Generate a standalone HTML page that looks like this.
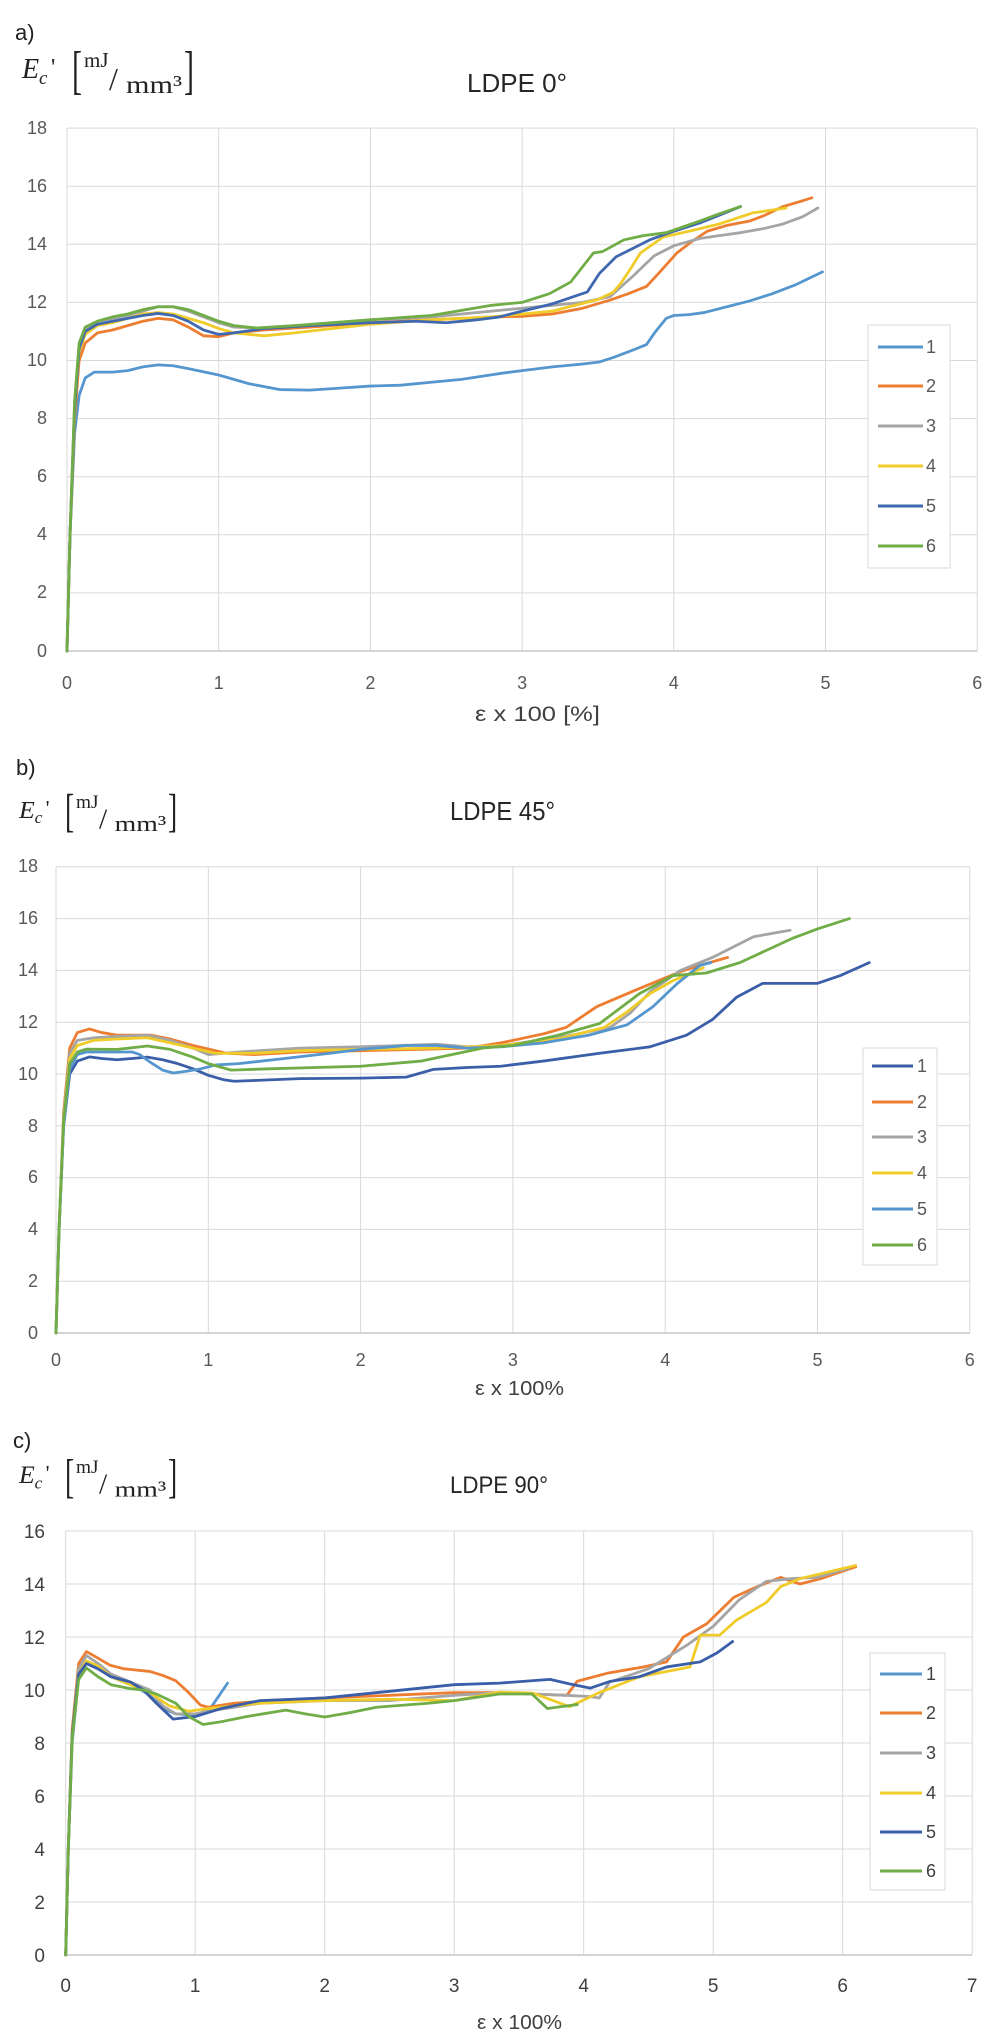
<!DOCTYPE html>
<html><head><meta charset="utf-8"><style>
html,body{margin:0;padding:0;background:#fff}
svg{display:block}
text{font-family:"Liberation Sans",sans-serif}
.tk{font-size:18px;fill:#595959}
.tkc{font-size:19px;fill:#404040}
.lg{font-size:18px;fill:#595959}
.ser{font-family:"Liberation Serif",serif;fill:#222}
.hd{font-size:22px;fill:#222}
.ttl{fill:#262626}
.xl{fill:#404040}
.g{stroke:#d9d9d9;stroke-width:1}
.ax{stroke:#c6c6c6;stroke-width:1.5}
</style></head><body>
<svg xmlns="http://www.w3.org/2000/svg" width="1001" height="2036" viewBox="0 0 1001 2036">
<rect width="1001" height="2036" fill="#fff"/>

<!-- ================= PANEL A ================= -->
<text class="hd" x="15" y="40">a)</text>
<g id="ecl">
<text class="ser" x="22" y="78" font-size="28" font-style="italic">E</text>
<text class="ser" x="39" y="84" font-size="19" font-style="italic">c</text>
<text class="ser" x="51" y="75" font-size="24">'</text>
<text class="ser" font-size="30" transform="translate(72,88) scale(1,1.75)">[</text>
<text class="ser" x="84" y="67" font-size="21">mJ</text>
<text class="ser" x="109" y="90" font-size="32">/</text>
<text class="ser" x="126" y="93" font-size="25" textLength="56" lengthAdjust="spacingAndGlyphs">mm³</text>
<text class="ser" font-size="30" transform="translate(184,88) scale(1,1.75)">]</text>
</g>
<text class="ttl" x="467" y="92" font-size="26" textLength="100" lengthAdjust="spacingAndGlyphs">LDPE 0°</text>

<g>
<line class="g" x1="67" y1="128.1" x2="977.2" y2="128.1"/>
<line class="g" x1="67" y1="186.2" x2="977.2" y2="186.2"/>
<line class="g" x1="67" y1="244.3" x2="977.2" y2="244.3"/>
<line class="g" x1="67" y1="302.4" x2="977.2" y2="302.4"/>
<line class="g" x1="67" y1="360.5" x2="977.2" y2="360.5"/>
<line class="g" x1="67" y1="418.6" x2="977.2" y2="418.6"/>
<line class="g" x1="67" y1="476.7" x2="977.2" y2="476.7"/>
<line class="g" x1="67" y1="534.8" x2="977.2" y2="534.8"/>
<line class="g" x1="67" y1="592.9" x2="977.2" y2="592.9"/>
<line class="g" x1="218.7" y1="128.1" x2="218.7" y2="651"/>
<line class="g" x1="370.4" y1="128.1" x2="370.4" y2="651"/>
<line class="g" x1="522.1" y1="128.1" x2="522.1" y2="651"/>
<line class="g" x1="673.8" y1="128.1" x2="673.8" y2="651"/>
<line class="g" x1="825.5" y1="128.1" x2="825.5" y2="651"/>
<line class="g" x1="977.2" y1="128.1" x2="977.2" y2="651"/>
<line class="g" x1="67" y1="128.1" x2="67" y2="651"/>
<line class="ax" x1="67" y1="651" x2="977.2" y2="651"/>
</g>
<g class="tk" text-anchor="end">
<text x="47" y="134">18</text><text x="47" y="192">16</text><text x="47" y="250">14</text>
<text x="47" y="308">12</text><text x="47" y="366">10</text><text x="47" y="424">8</text>
<text x="47" y="482">6</text><text x="47" y="540">4</text><text x="47" y="598">2</text>
<text x="47" y="657">0</text>
</g>
<g class="tk" text-anchor="middle">
<text x="67" y="689">0</text><text x="218.7" y="689">1</text><text x="370.4" y="689">2</text>
<text x="522.1" y="689">3</text><text x="673.8" y="689">4</text><text x="825.5" y="689">5</text>
<text x="977.2" y="689">6</text>
</g>
<text class="xl" x="475" y="721" font-size="21" textLength="125" lengthAdjust="spacingAndGlyphs">ε x 100 [%]</text>

<g transform="translate(67,651) scale(151.7,-29.05)" fill="none" stroke-linejoin="round" stroke-linecap="round">
<polyline vector-effect="non-scaling-stroke" stroke="#5596cf" stroke-width="2.8" points="0,0 0.02,4 0.05,7.5 0.08,8.8 0.12,9.4 0.18,9.6 0.3,9.6 0.4,9.65 0.5,9.78 0.6,9.85 0.7,9.82 0.8,9.72 1,9.5 1.2,9.2 1.4,9.0 1.6,8.98 1.8,9.05 2,9.12 2.2,9.15 2.4,9.25 2.6,9.35 2.85,9.55 3,9.65 3.2,9.78 3.4,9.88 3.51,9.95 3.6,10.1 3.75,10.4 3.82,10.55 3.88,11 3.95,11.45 4,11.55 4.1,11.58 4.2,11.65 4.35,11.85 4.5,12.05 4.65,12.3 4.8,12.6 4.98,13.05"/>
<polyline vector-effect="non-scaling-stroke" stroke="#ed7d31" stroke-width="2.8" points="0,0 0.02,4 0.05,8 0.08,10 0.12,10.6 0.2,10.95 0.3,11.05 0.4,11.2 0.5,11.35 0.6,11.45 0.7,11.4 0.8,11.15 0.9,10.85 1,10.82 1.1,10.95 1.3,11.05 1.6,11.15 2,11.3 2.4,11.4 2.8,11.5 3,11.52 3.2,11.6 3.4,11.8 3.58,12.08 3.7,12.3 3.82,12.55 3.9,13 4.02,13.7 4.12,14.1 4.22,14.45 4.35,14.65 4.5,14.8 4.6,15 4.72,15.3 4.85,15.5 4.91,15.6"/>
<polyline vector-effect="non-scaling-stroke" stroke="#a5a5a5" stroke-width="2.8" points="0,0 0.02,4 0.05,8.5 0.08,10.5 0.12,11.1 0.2,11.35 0.3,11.45 0.4,11.55 0.5,11.7 0.6,11.85 0.7,11.85 0.8,11.7 0.9,11.5 1,11.3 1.1,11.15 1.25,11.12 1.5,11.2 2,11.4 2.4,11.5 2.8,11.7 3,11.8 3.2,11.9 3.4,12 3.58,12.2 3.73,12.9 3.87,13.6 4,13.95 4.17,14.2 4.3,14.3 4.44,14.4 4.6,14.55 4.72,14.7 4.85,14.95 4.95,15.25"/>
<polyline vector-effect="non-scaling-stroke" stroke="#f0cc2a" stroke-width="2.8" points="0,0 0.02,4 0.05,8.2 0.08,10.3 0.12,10.9 0.2,11.2 0.3,11.3 0.4,11.45 0.5,11.6 0.6,11.65 0.7,11.6 0.8,11.45 0.9,11.3 1,11.1 1.1,10.95 1.3,10.85 1.5,10.95 2,11.25 2.4,11.4 2.8,11.5 3.2,11.7 3.5,12.1 3.6,12.35 3.65,12.65 3.72,13.2 3.78,13.7 3.93,14.25 4.1,14.45 4.3,14.7 4.52,15.08 4.74,15.25"/>
<polyline vector-effect="non-scaling-stroke" stroke="#4068b0" stroke-width="2.8" points="0,0 0.02,4 0.05,8.3 0.08,10.4 0.12,11 0.2,11.25 0.3,11.35 0.4,11.45 0.5,11.55 0.6,11.62 0.7,11.55 0.8,11.35 0.9,11.05 1,10.9 1.1,10.95 1.3,11.1 1.6,11.2 2,11.3 2.3,11.35 2.5,11.3 2.7,11.4 2.85,11.5 3,11.7 3.2,11.95 3.43,12.36 3.51,13 3.62,13.57 3.84,14.15 4,14.45 4.17,14.73 4.3,15 4.44,15.3"/>
<polyline vector-effect="non-scaling-stroke" stroke="#70ad47" stroke-width="2.8" points="0,0 0.02,4 0.05,8.6 0.08,10.6 0.12,11.15 0.2,11.35 0.3,11.5 0.4,11.6 0.5,11.75 0.6,11.85 0.7,11.85 0.8,11.75 0.9,11.55 1,11.35 1.1,11.2 1.25,11.12 1.5,11.2 2,11.4 2.4,11.55 2.8,11.9 3,12 3.18,12.3 3.32,12.7 3.47,13.7 3.53,13.75 3.67,14.15 3.8,14.3 3.95,14.4 4.17,14.8 4.3,15.05 4.44,15.3"/>
</g>

<rect x="868" y="325" width="82" height="243" fill="#fff" stroke="#d9d9d9" stroke-width="1"/>
<g stroke-width="3">
<line x1="878" y1="347" x2="923" y2="347" stroke="#5596cf"/>
<line x1="878" y1="386" x2="923" y2="386" stroke="#ed7d31"/>
<line x1="878" y1="426" x2="923" y2="426" stroke="#a5a5a5"/>
<line x1="878" y1="466" x2="923" y2="466" stroke="#f0cc2a"/>
<line x1="878" y1="506" x2="923" y2="506" stroke="#4068b0"/>
<line x1="878" y1="546" x2="923" y2="546" stroke="#70ad47"/>
</g>
<g class="lg">
<text x="926" y="353">1</text><text x="926" y="392">2</text><text x="926" y="432">3</text>
<text x="926" y="472">4</text><text x="926" y="512">5</text><text x="926" y="552">6</text>
</g>

<!-- ================= PANEL B ================= -->
<text class="hd" x="16" y="775">b)</text>
<use href="#ecl" transform="translate(19,817) scale(0.92,0.88) translate(-22,-77)"/>
<text class="ttl" x="450" y="820" font-size="26" textLength="105" lengthAdjust="spacingAndGlyphs">LDPE 45°</text>

<g>
<line class="g" x1="56" y1="866.8" x2="969.8" y2="866.8"/>
<line class="g" x1="56" y1="918.6" x2="969.8" y2="918.6"/>
<line class="g" x1="56" y1="970.4" x2="969.8" y2="970.4"/>
<line class="g" x1="56" y1="1022.2" x2="969.8" y2="1022.2"/>
<line class="g" x1="56" y1="1074" x2="969.8" y2="1074"/>
<line class="g" x1="56" y1="1125.8" x2="969.8" y2="1125.8"/>
<line class="g" x1="56" y1="1177.6" x2="969.8" y2="1177.6"/>
<line class="g" x1="56" y1="1229.4" x2="969.8" y2="1229.4"/>
<line class="g" x1="56" y1="1281.2" x2="969.8" y2="1281.2"/>
<line class="g" x1="208.3" y1="866.8" x2="208.3" y2="1333"/>
<line class="g" x1="360.6" y1="866.8" x2="360.6" y2="1333"/>
<line class="g" x1="512.9" y1="866.8" x2="512.9" y2="1333"/>
<line class="g" x1="665.2" y1="866.8" x2="665.2" y2="1333"/>
<line class="g" x1="817.5" y1="866.8" x2="817.5" y2="1333"/>
<line class="g" x1="969.8" y1="866.8" x2="969.8" y2="1333"/>
<line class="g" x1="56" y1="866.8" x2="56" y2="1333"/>
<line class="ax" x1="56" y1="1333" x2="969.8" y2="1333"/>
</g>
<g class="tk" text-anchor="end" font-size="17">
<text x="38" y="872">18</text><text x="38" y="924">16</text><text x="38" y="976">14</text>
<text x="38" y="1028">12</text><text x="38" y="1080">10</text><text x="38" y="1132">8</text>
<text x="38" y="1183">6</text><text x="38" y="1235">4</text><text x="38" y="1287">2</text>
<text x="38" y="1339">0</text>
</g>
<g class="tk" text-anchor="middle" font-size="17">
<text x="56" y="1366">0</text><text x="208.3" y="1366">1</text><text x="360.6" y="1366">2</text>
<text x="512.9" y="1366">3</text><text x="665.2" y="1366">4</text><text x="817.5" y="1366">5</text>
<text x="969.8" y="1366">6</text>
</g>
<text class="xl" x="475" y="1395" font-size="20" textLength="89" lengthAdjust="spacingAndGlyphs">ε x 100%</text>

<g transform="translate(56,1333) scale(152.3,-25.9)" fill="none" stroke-linejoin="round" stroke-linecap="round">
<polyline vector-effect="non-scaling-stroke" stroke="#3b5ea8" stroke-width="2.8" points="0,0 0.02,4 0.05,8 0.09,10 0.14,10.5 0.22,10.66 0.3,10.6 0.4,10.55 0.5,10.6 0.6,10.65 0.7,10.55 0.8,10.4 0.9,10.2 1,9.95 1.1,9.78 1.17,9.72 1.3,9.75 1.6,9.82 2,9.84 2.3,9.88 2.48,10.18 2.7,10.25 2.92,10.3 3.2,10.5 3.57,10.8 3.9,11.05 4.14,11.5 4.31,12.1 4.47,12.97 4.64,13.5 4.8,13.5 5,13.5 5.15,13.8 5.34,14.3"/>
<polyline vector-effect="non-scaling-stroke" stroke="#ed7d31" stroke-width="2.8" points="0,0 0.02,4 0.05,8.5 0.09,11 0.14,11.6 0.22,11.74 0.3,11.6 0.4,11.5 0.5,11.5 0.62,11.5 0.75,11.35 0.9,11.1 1.12,10.8 1.3,10.75 1.6,10.85 2,10.9 2.4,10.95 2.7,11 2.92,11.2 3.2,11.55 3.35,11.8 3.55,12.6 3.83,13.3 4.1,13.95 4.23,14.2 4.41,14.5"/>
<polyline vector-effect="non-scaling-stroke" stroke="#a5a5a5" stroke-width="2.8" points="0,0 0.02,4 0.05,8.3 0.09,10.8 0.14,11.3 0.25,11.4 0.4,11.45 0.6,11.5 0.75,11.3 0.9,11 1,10.75 1.2,10.85 1.6,11 2,11.05 2.5,11.15 2.7,11.05 2.92,11.1 3.3,11.4 3.64,11.8 3.77,12.35 3.9,13.17 4.1,14 4.31,14.5 4.58,15.3 4.82,15.55"/>
<polyline vector-effect="non-scaling-stroke" stroke="#f0cc2a" stroke-width="2.8" points="0,0 0.02,4 0.05,8.2 0.09,10.6 0.14,11.1 0.25,11.3 0.4,11.35 0.6,11.4 0.75,11.2 0.9,11 1.05,10.8 1.3,10.8 1.6,10.9 2,10.95 2.5,11 2.92,11.1 3.3,11.35 3.6,11.8 3.75,12.4 3.9,13.1 4.05,13.6 4.25,14.1"/>
<polyline vector-effect="non-scaling-stroke" stroke="#5596cf" stroke-width="2.8" points="0,0 0.02,4 0.05,8 0.09,10.2 0.14,10.75 0.2,10.85 0.3,10.85 0.4,10.85 0.5,10.85 0.55,10.75 0.62,10.45 0.7,10.15 0.77,10.04 0.85,10.1 0.95,10.2 1.05,10.35 1.2,10.4 1.5,10.6 1.8,10.8 2,10.95 2.3,11.1 2.5,11.1 2.7,11 2.92,11.05 3.2,11.2 3.5,11.5 3.75,11.9 3.92,12.6 4.08,13.5 4.23,14.2 4.3,14.3"/>
<polyline vector-effect="non-scaling-stroke" stroke="#70ad47" stroke-width="2.8" points="0,0 0.02,4 0.05,8.2 0.09,10.4 0.14,10.85 0.2,10.96 0.4,10.95 0.6,11.08 0.75,10.95 0.9,10.65 1,10.4 1.15,10.15 1.4,10.2 2,10.3 2.4,10.5 2.8,11 3,11.1 3.3,11.5 3.57,11.95 3.83,13.1 4.05,13.8 4.27,13.9 4.49,14.3 4.84,15.25 5,15.6 5.21,16"/>
</g>

<rect x="863" y="1048" width="74" height="217" fill="#fff" stroke="#d9d9d9" stroke-width="1"/>
<g stroke-width="3">
<line x1="872" y1="1066" x2="913" y2="1066" stroke="#3b5ea8"/>
<line x1="872" y1="1102" x2="913" y2="1102" stroke="#ed7d31"/>
<line x1="872" y1="1137" x2="913" y2="1137" stroke="#a5a5a5"/>
<line x1="872" y1="1173" x2="913" y2="1173" stroke="#f0cc2a"/>
<line x1="872" y1="1209" x2="913" y2="1209" stroke="#5596cf"/>
<line x1="872" y1="1245" x2="913" y2="1245" stroke="#70ad47"/>
</g>
<g class="lg" font-size="17">
<text x="917" y="1072">1</text><text x="917" y="1108">2</text><text x="917" y="1143">3</text>
<text x="917" y="1179">4</text><text x="917" y="1215">5</text><text x="917" y="1251">6</text>
</g>

<!-- ================= PANEL C ================= -->
<text class="hd" x="13" y="1448">c)</text>
<use href="#ecl" transform="translate(19,1482) scale(0.92,0.9) translate(-22,-77)"/>
<text class="ttl" x="450" y="1493" font-size="24" textLength="98" lengthAdjust="spacingAndGlyphs">LDPE 90°</text>

<g>
<line class="g" x1="65.7" y1="1531" x2="972.2" y2="1531"/>
<line class="g" x1="65.7" y1="1584" x2="972.2" y2="1584"/>
<line class="g" x1="65.7" y1="1637" x2="972.2" y2="1637"/>
<line class="g" x1="65.7" y1="1690" x2="972.2" y2="1690"/>
<line class="g" x1="65.7" y1="1743" x2="972.2" y2="1743"/>
<line class="g" x1="65.7" y1="1796" x2="972.2" y2="1796"/>
<line class="g" x1="65.7" y1="1849" x2="972.2" y2="1849"/>
<line class="g" x1="65.7" y1="1902" x2="972.2" y2="1902"/>
<line class="g" x1="195.2" y1="1531" x2="195.2" y2="1955"/>
<line class="g" x1="324.7" y1="1531" x2="324.7" y2="1955"/>
<line class="g" x1="454.2" y1="1531" x2="454.2" y2="1955"/>
<line class="g" x1="583.7" y1="1531" x2="583.7" y2="1955"/>
<line class="g" x1="713.2" y1="1531" x2="713.2" y2="1955"/>
<line class="g" x1="842.7" y1="1531" x2="842.7" y2="1955"/>
<line class="g" x1="972.2" y1="1531" x2="972.2" y2="1955"/>
<line class="g" x1="65.7" y1="1531" x2="65.7" y2="1955"/>
<line class="ax" x1="65.7" y1="1955" x2="972.2" y2="1955"/>
</g>
<g class="tkc" text-anchor="end">
<text x="45" y="1538">16</text><text x="45" y="1591">14</text><text x="45" y="1644">12</text>
<text x="45" y="1697">10</text><text x="45" y="1750">8</text><text x="45" y="1803">6</text>
<text x="45" y="1856">4</text><text x="45" y="1909">2</text><text x="45" y="1962">0</text>
</g>
<g class="tkc" text-anchor="middle">
<text x="65.7" y="1992">0</text><text x="195.2" y="1992">1</text><text x="324.7" y="1992">2</text>
<text x="454.2" y="1992">3</text><text x="583.7" y="1992">4</text><text x="713.2" y="1992">5</text>
<text x="842.7" y="1992">6</text><text x="972.2" y="1992">7</text>
</g>
<text class="xl" x="477" y="2029" font-size="20" textLength="85" lengthAdjust="spacingAndGlyphs">ε x 100%</text>

<g transform="translate(65.7,1955) scale(129.5,-26.5)" fill="none" stroke-linejoin="round" stroke-linecap="round">
<polyline vector-effect="non-scaling-stroke" stroke="#5596cf" stroke-width="2.8" points="0,0 0.02,4 0.05,8 0.1,10.5 0.16,11 0.25,10.8 0.35,10.5 0.45,10.3 0.55,10.1 0.65,9.8 0.75,9.3 0.85,9.1 1,9.05 1.08,9.2 1.13,9.4 1.2,9.9 1.25,10.26"/>
<polyline vector-effect="non-scaling-stroke" stroke="#ed7d31" stroke-width="2.8" points="0,0 0.02,4 0.05,8.5 0.1,11 0.16,11.45 0.25,11.2 0.34,10.94 0.45,10.8 0.55,10.75 0.65,10.7 0.75,10.55 0.85,10.35 0.95,9.9 1.04,9.43 1.1,9.35 1.3,9.5 1.6,9.6 2,9.7 2.5,9.8 3,9.9 3.35,9.9 3.6,9.85 3.87,9.8 3.95,10.33 4.18,10.63 4.46,10.87 4.64,11.06 4.77,12 4.95,12.5 5.16,13.5 5.34,13.9 5.52,14.25 5.67,14 5.83,14.2 6.1,14.65"/>
<polyline vector-effect="non-scaling-stroke" stroke="#a5a5a5" stroke-width="2.8" points="0,0 0.02,4 0.05,8.3 0.1,10.8 0.16,11.3 0.25,11 0.35,10.6 0.5,10.3 0.65,10 0.75,9.4 0.85,9.1 1,9.1 1.1,9.2 1.5,9.5 2,9.6 2.5,9.6 3,9.8 3.35,9.9 3.6,9.85 3.87,9.8 4.05,9.75 4.12,9.7 4.2,10.3 4.5,10.8 4.8,11.7 5,12.4 5.2,13.4 5.41,14.1 5.6,14.2 5.8,14.25 6.05,14.6"/>
<polyline vector-effect="non-scaling-stroke" stroke="#f0cc2a" stroke-width="2.8" points="0,0 0.02,4 0.05,8.2 0.1,10.6 0.16,11.1 0.25,10.9 0.35,10.5 0.5,10.2 0.65,9.9 0.8,9.4 0.95,9.2 1.1,9.3 1.5,9.5 2,9.6 2.5,9.65 3,9.6 3.35,9.92 3.61,9.88 3.89,9.37 4.12,9.9 4.43,10.5 4.82,10.87 4.9,12.07 5.05,12.07 5.18,12.64 5.41,13.3 5.52,13.9 5.67,14.2 6.1,14.7"/>
<polyline vector-effect="non-scaling-stroke" stroke="#3b5ea8" stroke-width="2.8" points="0,0 0.02,4 0.05,8.3 0.1,10.6 0.16,11 0.25,10.8 0.35,10.5 0.5,10.3 0.6,10 0.7,9.5 0.83,8.9 1,9 1.2,9.3 1.5,9.6 2,9.7 2.5,9.95 3,10.2 3.35,10.26 3.74,10.4 3.89,10.23 4.05,10.07 4.2,10.32 4.43,10.5 4.64,10.87 4.9,11.06 5.03,11.4 5.15,11.83"/>
<polyline vector-effect="non-scaling-stroke" stroke="#70ad47" stroke-width="2.8" points="0,0 0.02,4 0.05,8.2 0.1,10.4 0.16,10.83 0.25,10.5 0.35,10.2 0.5,10.05 0.6,10 0.7,9.85 0.85,9.5 0.95,9 1.06,8.7 1.2,8.8 1.4,9 1.7,9.24 1.85,9.1 2,8.98 2.2,9.15 2.4,9.35 2.8,9.5 3,9.6 3.35,9.85 3.6,9.85 3.72,9.3 3.87,9.4 3.95,9.45"/>
</g>

<rect x="870" y="1653" width="75" height="237" fill="#fff" stroke="#d9d9d9" stroke-width="1"/>
<g stroke-width="3">
<line x1="880" y1="1674" x2="922" y2="1674" stroke="#5596cf"/>
<line x1="880" y1="1713" x2="922" y2="1713" stroke="#ed7d31"/>
<line x1="880" y1="1753" x2="922" y2="1753" stroke="#a5a5a5"/>
<line x1="880" y1="1793" x2="922" y2="1793" stroke="#f0cc2a"/>
<line x1="880" y1="1832" x2="922" y2="1832" stroke="#3b5ea8"/>
<line x1="880" y1="1871" x2="922" y2="1871" stroke="#70ad47"/>
</g>
<g class="lg" style="fill:#404040">
<text x="926" y="1680">1</text><text x="926" y="1719">2</text><text x="926" y="1759">3</text>
<text x="926" y="1799">4</text><text x="926" y="1838">5</text><text x="926" y="1877">6</text>
</g>
</svg>
</body></html>
